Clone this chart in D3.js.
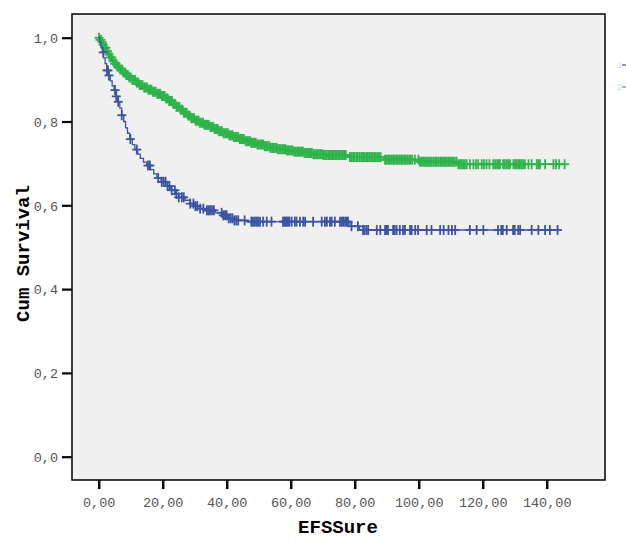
<!DOCTYPE html>
<html><head><meta charset="utf-8">
<script src="https://cdn.jsdelivr.net/npm/d3@7"></script>
<style>html,body{margin:0;padding:0;background:#fff;}svg{display:block;}</style>
</head><body>
<svg id="c" width="626" height="544"></svg>
<script>
// ---- data ----
const xTicks = [0, 20, 40, 60, 80, 100, 120, 140];
const yTicks = [0, 0.2, 0.4, 0.6, 0.8, 1.0];
const seriesNames = ["1", "2"];

// group 1 (blue): KM step times and survival after each step
const blueTimes = [0, 0.3, 0.7, 1.1, 1.5, 2.0, 2.5, 3.0, 3.6, 4.2, 4.8, 5.5, 6.0, 6.6, 7.2, 7.8, 8.4, 9.0, 9.7, 10.5, 11.3, 12.2, 13.0, 14.0, 15.0, 16.2, 17.2, 18.2, 19.5, 21.0, 22.5, 24.0, 25.0, 27.0, 28.5, 30.0, 31.0, 33.0, 36.5, 38.5, 40.5, 42.0, 46.0, 78.5, 81.5];
const blueSurv  = [1.0, 0.99, 0.978, 0.965, 0.952, 0.938, 0.922, 0.91, 0.897, 0.885, 0.875, 0.86, 0.847, 0.832, 0.815, 0.8, 0.785, 0.772, 0.758, 0.745, 0.733, 0.722, 0.712, 0.703, 0.695, 0.685, 0.675, 0.665, 0.656, 0.646, 0.636, 0.627, 0.619, 0.612, 0.604, 0.598, 0.592, 0.588, 0.582, 0.576, 0.569, 0.564, 0.561, 0.55, 0.541];
const blueCensored = [1.4, 2.6, 2.9, 3.2, 5.1, 5.5, 6.1, 7.2, 9.9, 11.9, 15.4, 16.0, 18.6, 19.7, 20.3, 20.9, 21.5, 22.1, 22.8, 23.8, 24.3, 25.0, 26.0, 26.6, 28.6, 29.6, 30.2, 30.8, 31.7, 32.7, 33.8, 34.3, 34.8, 35.4, 36.0, 38.4, 38.9, 39.5, 40.0, 40.6, 41.2, 41.8, 42.4, 43.0, 43.6, 45.6, 47.7, 48.2, 48.8, 49.3, 49.8, 50.4, 51.4, 52.5, 54.0, 57.6, 58.0, 58.4, 58.8, 59.2, 59.6, 60.3, 61.3, 61.8, 62.9, 63.9, 64.5, 67.0, 69.7, 70.7, 71.3, 72.3, 72.8, 73.8, 75.4, 76.0, 76.4, 77.0, 77.5, 77.9, 79.0, 81.0, 82.6, 83.1, 83.7, 84.2, 86.9, 88.0, 89.5, 89.9, 90.4, 92.0, 92.5, 93.1, 94.1, 95.1, 95.7, 97.3, 97.8, 98.9, 99.8, 102.5, 104.0, 106.7, 107.8, 109.3, 110.4, 111.4, 116.0, 118.1, 120.2, 124.8, 125.8, 126.3, 127.5, 129.5, 130.0, 131.1, 131.7, 135.3, 137.4, 139.5, 141.0, 143.4];

// group 2 (green)
const greenTimes = [0, 0.3, 0.8, 1.3, 1.8, 2.4, 3.0, 3.6, 4.3, 5.0, 5.8, 6.6, 7.5, 8.4, 9.4, 10.5, 11.6, 12.8, 14.0, 15.3, 16.6, 18.0, 19.4, 20.8, 22.0, 23.2, 24.3, 25.4, 26.5, 27.6, 28.8, 30.0, 31.5, 33.0, 34.5, 36.0, 37.5, 39.0, 40.5, 42.0, 43.8, 45.5, 47.5, 49.5, 51.5, 53.5, 56.0, 58.5, 61.0, 64.0, 67.0, 70.0, 78.0, 89.0, 100.0, 112.0];
const greenSurv  = [1.0, 0.995, 0.99, 0.983, 0.976, 0.968, 0.96, 0.953, 0.945, 0.938, 0.931, 0.924, 0.917, 0.911, 0.905, 0.899, 0.893, 0.887, 0.881, 0.876, 0.871, 0.866, 0.861, 0.855, 0.849, 0.842, 0.835, 0.828, 0.821, 0.814, 0.808, 0.802, 0.797, 0.792, 0.787, 0.782, 0.777, 0.772, 0.767, 0.763, 0.758, 0.753, 0.749, 0.745, 0.741, 0.737, 0.734, 0.731, 0.728, 0.725, 0.722, 0.72, 0.715, 0.709, 0.704, 0.698];
const greenCensored = [0.1, 0.4, 0.7, 1.0, 1.4, 1.9, 2.3, 2.7, 3.2, 3.6, 4.1, 4.5, 5.0, 5.4, 5.9, 6.3, 6.8, 7.3, 7.7, 8.2, 8.6, 9.1, 9.6, 10.0, 10.5, 10.9, 11.4, 11.9, 12.3, 12.8, 13.2, 13.7, 14.2, 14.6, 15.1, 15.5, 16.0, 16.5, 16.9, 17.4, 17.8, 18.3, 18.8, 19.2, 19.7, 20.1, 20.6, 21.1, 21.5, 22.0, 22.4, 22.9, 23.4, 23.8, 24.3, 24.7, 25.2, 25.7, 26.1, 26.6, 27.0, 27.5, 28.0, 28.4, 28.9, 29.3, 29.8, 30.3, 30.7, 31.2, 31.6, 32.1, 32.6, 33.0, 33.5, 33.9, 34.4, 34.9, 35.3, 35.8, 36.2, 36.7, 37.2, 37.6, 38.1, 38.5, 39.0, 39.5, 39.9, 40.4, 40.8, 41.3, 41.8, 42.2, 42.7, 43.1, 43.6, 44.1, 44.5, 45.0, 45.4, 45.9, 46.4, 46.8, 47.3, 47.7, 48.2, 48.7, 49.1, 49.6, 50.0, 50.5, 51.0, 51.4, 51.9, 52.3, 52.8, 53.3, 53.7, 54.2, 54.6, 55.1, 55.6, 56.0, 56.5, 56.9, 57.4, 57.9, 58.3, 58.8, 59.2, 59.7, 60.2, 60.6, 61.1, 61.5, 62.0, 62.5, 62.9, 63.4, 63.8, 64.3, 64.8, 65.2, 65.7, 66.1, 66.6, 67.1, 67.5, 68.0, 68.4, 68.9, 69.4, 69.8, 70.3, 70.7, 71.2, 71.7, 72.1, 72.6, 73.0, 73.5, 74.0, 74.4, 74.9, 75.3, 75.8, 76.3, 76.7, 77.2, 78.5, 79.0, 79.5, 80.0, 80.6, 81.0, 81.6, 82.2, 82.6, 83.1, 83.6, 84.1, 84.6, 85.1, 85.6, 86.1, 86.6, 87.1, 87.6, 88.1, 89.5, 90.0, 90.5, 91.0, 91.5, 92.0, 92.5, 93.0, 93.5, 94.0, 94.5, 95.0, 95.5, 96.0, 96.5, 97.0, 97.5, 98.0, 98.8, 99.9, 100.4, 100.9, 101.4, 101.9, 102.4, 102.9, 103.4, 103.9, 104.5, 105.1, 105.6, 106.1, 106.7, 107.2, 107.7, 108.2, 108.7, 109.2, 109.7, 110.2, 110.7, 111.2, 111.8, 112.4, 112.9, 113.4, 113.9, 114.4, 115.0, 116.0, 117.1, 117.9, 118.6, 119.7, 120.4, 121.2, 122.1, 123.3, 123.9, 124.5, 125.0, 125.4, 126.4, 126.9, 127.5, 128.0, 128.5, 129.6, 130.1, 130.6, 131.1, 131.6, 132.1, 132.6, 133.2, 134.3, 135.3, 136.9, 137.4, 137.9, 139.5, 142.1, 142.9, 143.9, 145.6];

// ---- layout ----
const svg = d3.select("#c");
const frame = {l: 72, t: 14, r: 605, b: 480};
const x = d3.scaleLinear().domain([0, 140]).range([98.7, 546.7]);
const y = d3.scaleLinear().domain([0, 1]).range([456.7, 37.7]);
const fmtX = d => d3.format(".2f")(d).replace(".", ",");
const fmtY = d => d3.format(".1f")(d).replace(".", ",");
const mono = "'Liberation Mono', 'Courier New', monospace";

svg.append("rect").attr("x", frame.l).attr("y", frame.t)
  .attr("width", frame.r - frame.l).attr("height", frame.b - frame.t)
  .attr("fill", "#f0f0f0");

svg.append("defs").append("clipPath").attr("id", "clip")
  .append("rect").attr("x", frame.l).attr("y", frame.t)
  .attr("width", frame.r - frame.l).attr("height", frame.b - frame.t);

const plot = svg.append("g").attr("clip-path", "url(#clip)");

function survAt(times, surv, t) {
  const i = d3.bisectRight(times, t) - 1;
  return surv[Math.max(0, i)];
}

function drawSeries(times, surv, cens, color) {
  const end = d3.max(cens);
  const pts = times.map((t, i) => [t, surv[i]]);
  pts.push([end, surv[surv.length - 1]]);
  const line = d3.line().x(d => x(d[0])).y(d => y(d[1])).curve(d3.curveStepAfter);
  plot.append("path").attr("d", line(pts)).attr("fill", "none")
    .attr("stroke", color).attr("stroke-width", 1.3);
  const g = plot.append("g").attr("stroke", color).attr("stroke-width", 1.8);
  cens.forEach(t => {
    const cx = x(t), cy = y(survAt(times, surv, t));
    g.append("line").attr("x1", cx).attr("x2", cx).attr("y1", cy - 5).attr("y2", cy + 5);
    g.append("line").attr("x1", cx - 4.5).attr("x2", cx + 4.5).attr("y1", cy).attr("y2", cy);
  });
}

const colors = {blue: "#3c55a2", green: "#2fb34b"};
drawSeries(greenTimes, greenSurv, greenCensored, colors.green);
drawSeries(blueTimes, blueSurv, blueCensored, colors.blue);

// frame
svg.append("rect").attr("x", frame.l).attr("y", frame.t)
  .attr("width", frame.r - frame.l).attr("height", frame.b - frame.t)
  .attr("fill", "none").attr("stroke", "#000").attr("stroke-width", 1.5);

// y axis
const ya = svg.append("g").attr("transform", `translate(${frame.l},0)`)
  .call(d3.axisLeft(y).tickValues(yTicks).tickFormat(fmtY).tickSize(10).tickPadding(4));
ya.select(".domain").remove();
ya.selectAll(".tick line").attr("stroke", "#000").attr("stroke-width", 2.2);
ya.selectAll(".tick text").attr("font-family", mono).attr("font-size", 13.5)
  .attr("fill", "#555").attr("dy", "0.36em");

// x axis
const xa = svg.append("g").attr("transform", `translate(0,${frame.b})`)
  .call(d3.axisBottom(x).tickValues(xTicks).tickFormat(fmtX).tickSize(9).tickPadding(8));
xa.select(".domain").remove();
xa.selectAll(".tick line").attr("stroke", "#000").attr("stroke-width", 2.5);
xa.selectAll(".tick text").attr("font-family", mono).attr("font-size", 13.5)
  .attr("fill", "#555");

// titles
svg.append("text").attr("x", 338).attr("y", 533).attr("text-anchor", "middle")
  .attr("font-family", mono).attr("font-weight", "bold").attr("font-size", 19)
  .attr("fill", "#000").text("EFSSure");
svg.append("text").attr("transform", "translate(29,253.5) rotate(-90)")
  .attr("text-anchor", "middle").attr("font-family", mono).attr("font-weight", "bold")
  .attr("font-size", 19).attr("fill", "#000").text("Cum Survival");

// clipped legend at right edge
const leg = svg.append("g");
[["1", colors.blue, 65], ["2", colors.green, 87]].forEach(([n, c, ly]) => {
  leg.append("text").attr("x", 617).attr("y", ly + 3).attr("font-family", mono)
    .attr("font-size", 9).attr("fill", "#ddd").text(n);
  leg.append("line").attr("x1", 622).attr("x2", 627).attr("y1", ly).attr("y2", ly)
    .attr("stroke", c).attr("stroke-width", 1.2);
});
</script>
</body></html>
